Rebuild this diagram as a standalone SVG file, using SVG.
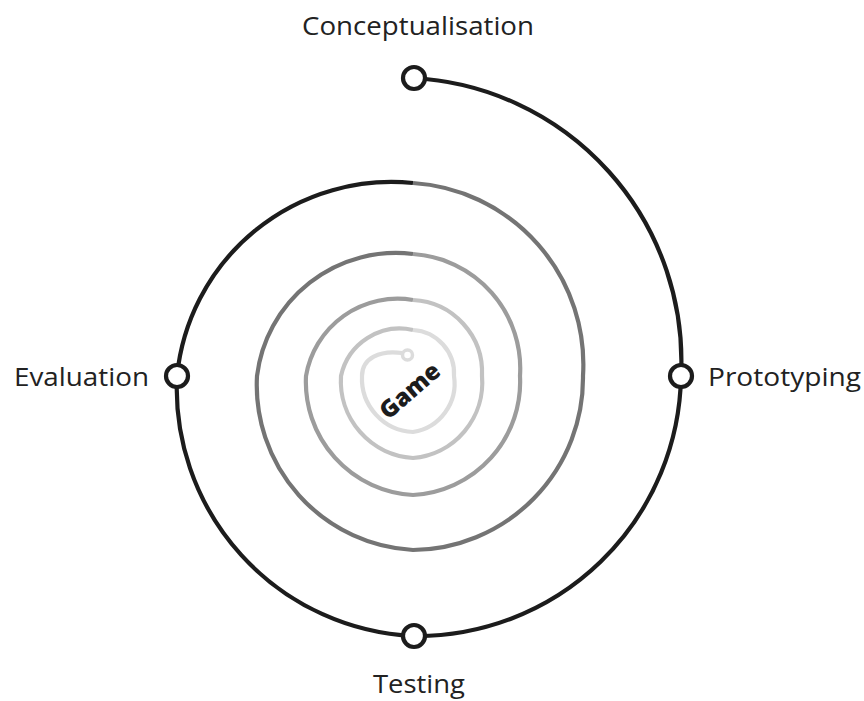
<svg xmlns="http://www.w3.org/2000/svg" width="864" height="701" viewBox="0 0 864 701">
  <style>
    .spiral { fill: none; stroke-width: 4.2; stroke-linecap: butt; }
    .node { fill: #ffffff; stroke: #1c1c1c; stroke-width: 4.2; }
    .label { font-family: "Open Sans", "Liberation Sans", sans-serif; font-size: 25px; fill: #222222; }
    .game { font-family: "Open Sans", "Liberation Sans", sans-serif; font-size: 24px; font-weight: 800; fill: #1c1c1c; }
  </style>
  <rect width="864" height="701" fill="#ffffff"/>
  <g id="connectors">
    <path class="spiral" stroke="#1c1c1c" d="M 413 78 A 283.4 283.4 0 0 1 681 376 A 264 264 0 0 1 413 636 A 248.3 248.3 0 0 1 177 376 A 215.6 215.6 0 0 1 413 183"/>
    <path class="spiral" stroke="#747474" d="M 413 183 A 181.9 181.9 0 0 1 583 376 A 172 172 0 0 1 413 550 A 165.2 165.2 0 0 1 257 376 A 140 140 0 0 1 413 254"/>
    <path class="spiral" stroke="#9c9c9c" d="M 413 254 A 114.7 114.7 0 0 1 520 376 A 113.2 113.2 0 0 1 413 495 A 113.2 113.2 0 0 1 306 376 A 92.8 92.8 0 0 1 413 300"/>
    <path class="spiral" stroke="#c2c2c2" d="M 413 300 A 72.6 72.6 0 0 1 482 376 A 75.8 75.8 0 0 1 413 458 A 77.2 77.2 0 0 1 341 376 A 60.4 60.4 0 0 1 413 330"/>
    <path class="spiral" stroke="#dcdcdc" d="M 413 330 A 43.6 43.6 0 0 1 454 376 A 49.1 49.1 0 0 1 413 432 A 53.6 53.6 0 0 1 362 376 C 362 358 380 350 402 353"/>
    <circle cx="407.5" cy="355" r="5" fill="#ffffff" stroke="#dcdcdc" stroke-width="3.5"/>
  </g>
  <g id="node-conceptualisation">
    <circle class="node" cx="414" cy="78" r="11"/>
    <text class="label" x="418" y="35" text-anchor="middle" textLength="232" lengthAdjust="spacingAndGlyphs">Conceptualisation</text>
  </g>
  <g id="node-prototyping">
    <circle class="node" cx="681" cy="376" r="11"/>
    <text class="label" x="708" y="386" textLength="153" lengthAdjust="spacingAndGlyphs">Prototyping</text>
  </g>
  <g id="node-testing">
    <circle class="node" cx="414" cy="636" r="11"/>
    <text class="label" x="419" y="693" text-anchor="middle" textLength="92" lengthAdjust="spacingAndGlyphs">Testing</text>
  </g>
  <g id="node-evaluation">
    <circle class="node" cx="177" cy="376" r="11"/>
    <text class="label" x="14" y="386" textLength="135" lengthAdjust="spacingAndGlyphs">Evaluation</text>
  </g>
  <g id="node-game">
    <text class="game" x="0" y="8" text-anchor="middle" transform="translate(410 391) rotate(-41)">Game</text>
  </g>
</svg>
